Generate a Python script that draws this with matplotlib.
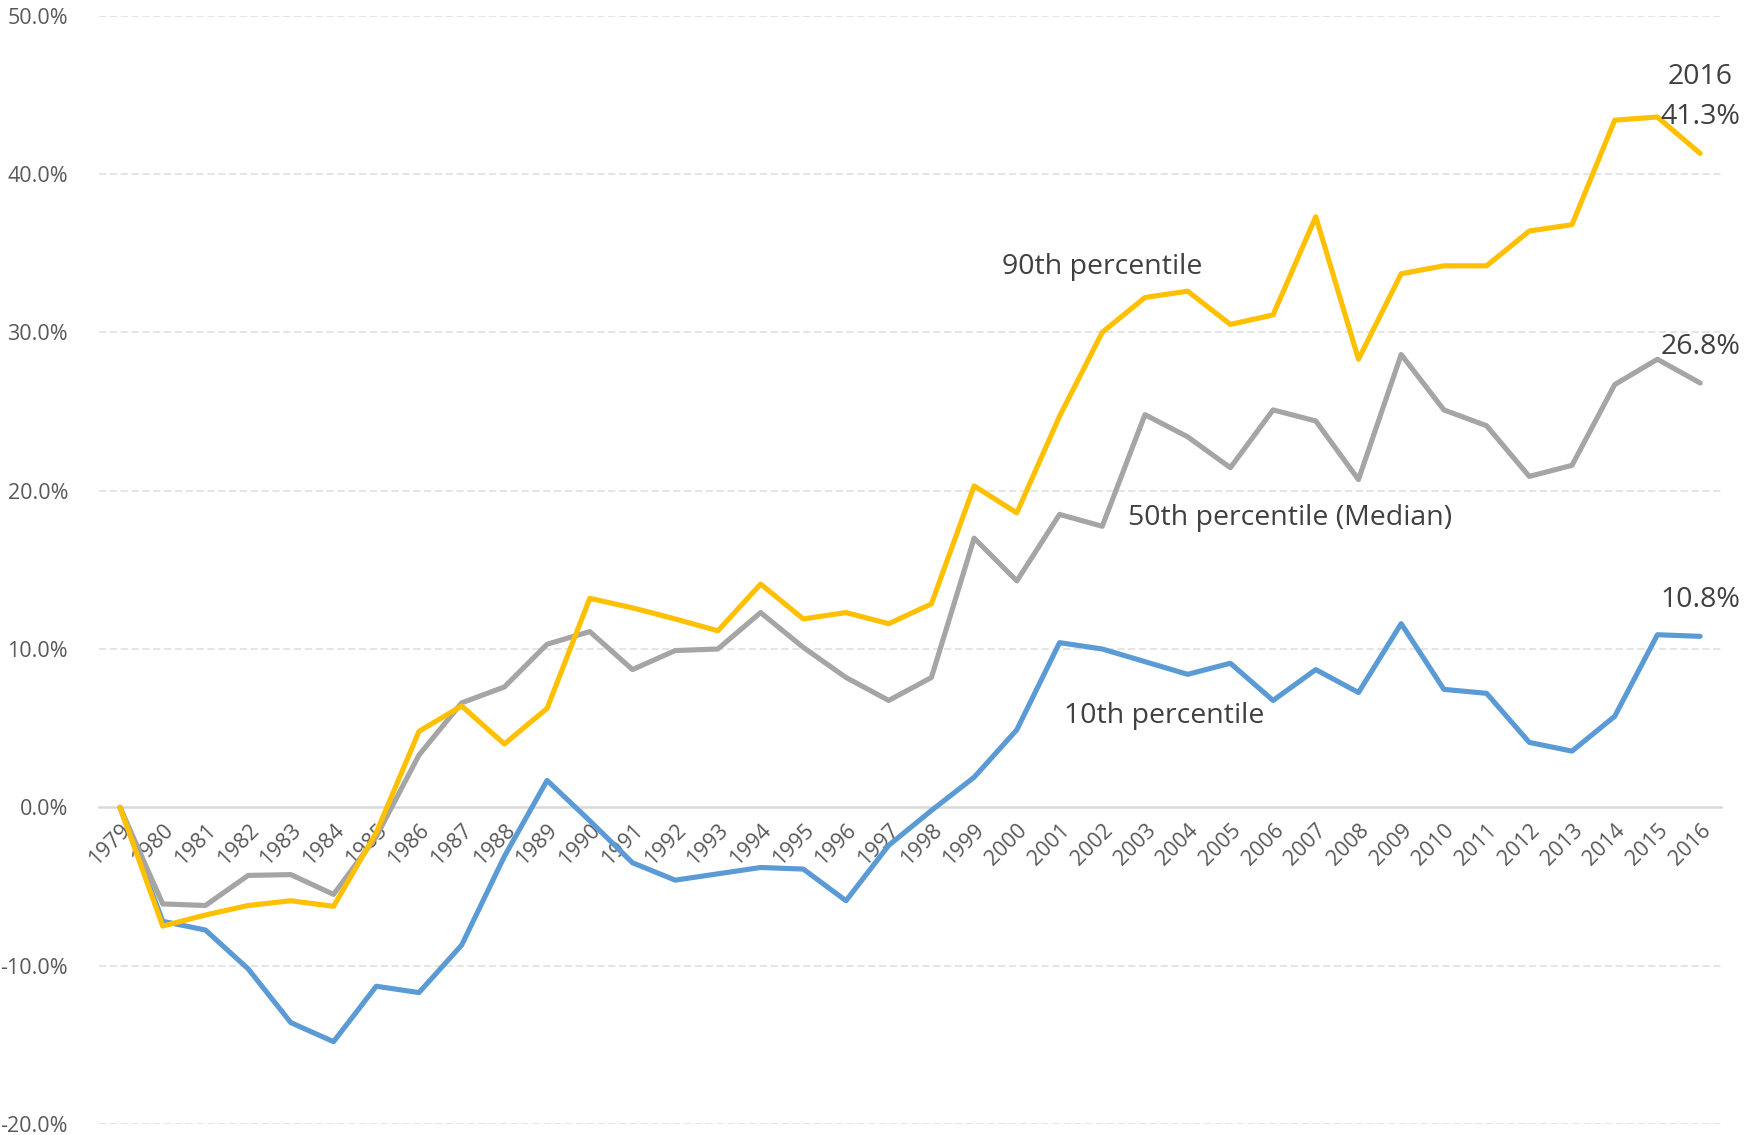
import matplotlib
matplotlib.use("Agg")
import matplotlib.pyplot as plt
from matplotlib.ticker import FuncFormatter

years = list(range(1979, 2017))

p90 = [0.0, -7.5, -6.8, -6.2, -5.9, -6.25, -1.6, 4.8, 6.4, 4.0,
       6.25, 13.2, 12.6, 11.9, 11.15, 14.1, 11.9, 12.3, 11.6, 12.85,
       20.3, 18.6, 24.7, 30.0, 32.2, 32.6, 30.5, 31.1, 37.3, 28.3,
       33.7, 34.2, 34.2, 36.4, 36.8, 43.4, 43.6, 41.3]

p50 = [0.0, -6.1, -6.2, -4.3, -4.25, -5.5, -1.85, 3.3, 6.6, 7.6,
       10.3, 11.1, 8.7, 9.9, 10.0, 12.3, 10.1, 8.2, 6.75, 8.2,
       17.0, 14.3, 18.5, 17.75, 24.8, 23.4, 21.45, 25.1, 24.4, 20.7,
       28.6, 25.1, 24.1, 20.9, 21.6, 26.7, 28.3, 26.8]

p10 = [0.0, -7.2, -7.75, -10.2, -13.6, -14.8, -11.3, -11.7, -8.7, -3.1,
       1.7, -0.85, -3.5, -4.6, -4.2, -3.8, -3.9, -5.9, -2.4, -0.2,
       1.9, 4.9, 10.4, 10.0, 9.2, 8.4, 9.1, 6.75, 8.7, 7.25,
       11.6, 7.45, 7.2, 4.1, 3.55, 5.75, 10.9, 10.8]

yticks = [-20, -10, 0, 10, 20, 30, 40, 50]

BLUE = "#5B9BD5"
GRAY = "#A5A5A5"
GOLD = "#FFC000"
TICK = "#595959"
LABEL = "#404040"

plt.rcParams['font.family'] = ['Open Sans', 'DejaVu Sans']

fig = plt.figure(figsize=(17.62, 11.35), dpi=100)
ax = fig.add_axes([0.056, 0.0097, 0.921, 0.9765])

x = list(range(len(years)))
kw = dict(linewidth=3.7, solid_joinstyle='round', solid_capstyle='round')
ax.plot(x, p10, color=BLUE, **kw)
ax.plot(x, p50, color=GRAY, **kw)
ax.plot(x, p90, color=GOLD, **kw)

ax.set_xlim(-0.5, len(years) - 0.5)
ax.set_ylim(-20, 50)

# horizontal gridlines (dashed), zero line is the bottom spine
for v in yticks:
    if v != 0:
        ax.axhline(v, color="#E3E3E3", linewidth=1.3, linestyle=(0, (4, 2)), zorder=0)

for s in ['top', 'right', 'left']:
    ax.spines[s].set_visible(False)
ax.spines['bottom'].set_position(('data', 0))
ax.spines['bottom'].set_color("#D9D9D9")
ax.spines['bottom'].set_linewidth(1.8)
ax.spines['bottom'].set_zorder(0.5)

ax.set_yticks(yticks)
ax.yaxis.set_major_formatter(FuncFormatter(lambda v, p: "{:.1f}%".format(v)))
ax.tick_params(axis='y', length=0, pad=22, labelsize=15.5, labelcolor=TICK)

ax.set_xticks(x)
ax.set_xticklabels([str(y) for y in years], rotation=45, ha='right',
                   rotation_mode='anchor')
ax.tick_params(axis='x', length=0, pad=9, labelsize=15.5, labelcolor=TICK)

ax.text(20.66, 34.1, "90th percentile", fontsize=20.5, color=LABEL, va='center', ha='left')
ax.text(23.6, 18.3, "50th percentile (Median)", fontsize=20.5, color=LABEL, va='center', ha='left')
ax.text(22.1, 5.75, "10th percentile", fontsize=20.5, color=LABEL, va='center', ha='left')

ax.text(37, 46.15, "2016", fontsize=20.5, color=LABEL, va='center', ha='center')
ax.text(37, 43.6, "{:.1f}%".format(p90[-1]), fontsize=20.5, color=LABEL, va='center', ha='center')
ax.text(37, 29.1, "{:.1f}%".format(p50[-1]), fontsize=20.5, color=LABEL, va='center', ha='center')
ax.text(37, 13.1, "{:.1f}%".format(p10[-1]), fontsize=20.5, color=LABEL, va='center', ha='center')

fig.savefig("out.png", dpi=100)
